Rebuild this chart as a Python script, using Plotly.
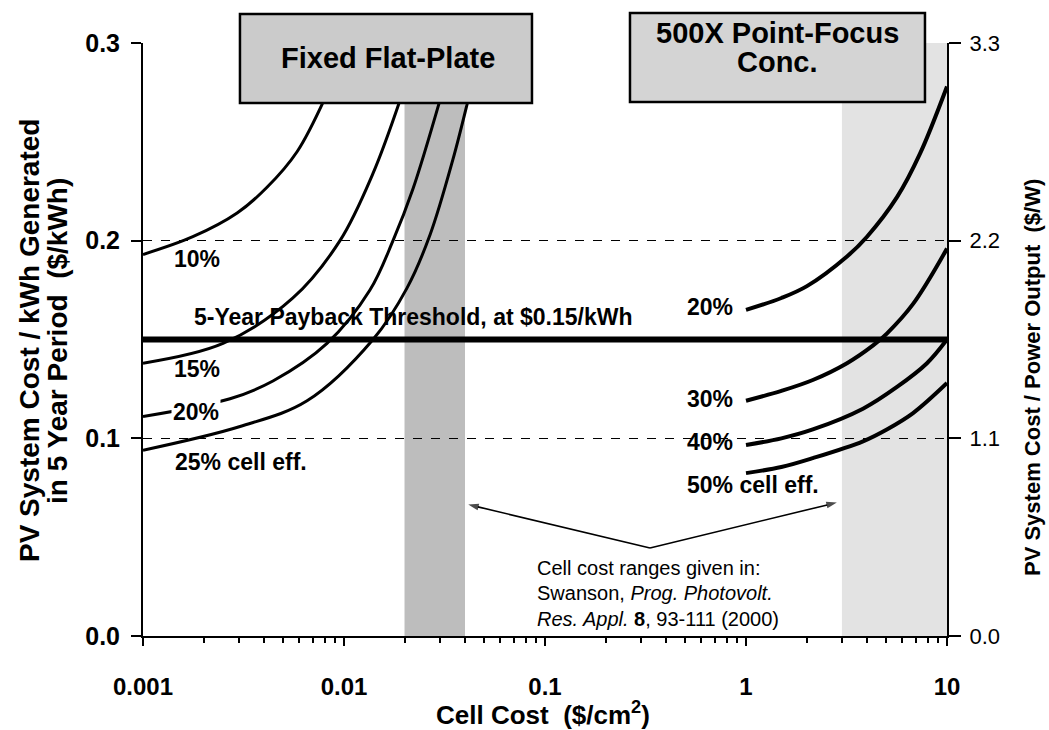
import math
import plotly.graph_objects as go

# ---- Flat-plate curves: cell cost ($/cm^2) vs system cost per kWh over 5 years ($/kWh)
fp10_x = [0.001, 0.00177, 0.00294, 0.00414, 0.00584, 0.00803]
fp10_y = [0.193, 0.202, 0.214, 0.227, 0.245, 0.272]
fp15_x = [0.001, 0.0025, 0.00557, 0.00955, 0.01394, 0.0190]
fp15_y = [0.138, 0.148, 0.171, 0.200, 0.234, 0.271]
fp20_x = [0.001, 0.00271, 0.00443, 0.00823, 0.01346, 0.01753, 0.0220, 0.0300]
fp20_y = [0.111, 0.120, 0.129, 0.148, 0.175, 0.200, 0.226, 0.271]
fp25_x = [0.001, 0.00304, 0.00655, 0.01394, 0.02057, 0.0268, 0.0348, 0.0414]
fp25_y = [0.094, 0.106, 0.119, 0.150, 0.176, 0.203, 0.241, 0.271]

# ---- 500X point-focus concentrator curves
c20_x = [1.0, 1.5, 2.01, 3.18, 4.0, 5.64, 7.34, 10.0]
c20_y = [0.165, 0.171, 0.1770, 0.192, 0.202, 0.222, 0.244, 0.278]
c30_x = [1.0, 1.5, 2.15, 3.18, 4.29, 5.02, 6.78, 10.0]
c30_y = [0.119, 0.124, 0.1295, 0.138, 0.147, 0.153, 0.168, 0.196]
c40_x = [1.0, 1.5, 2.15, 3.82, 5.64, 7.95, 10.0]
c40_y = [0.0966, 0.100, 0.1045, 0.115, 0.126, 0.138, 0.150]
c50_x = [1.0, 1.5, 2.15, 3.82, 5.02, 6.78, 10.0]
c50_y = [0.0824, 0.0855, 0.090, 0.0985, 0.1045, 0.1128, 0.128]

# ---- Payback threshold and cell-cost ranges
threshold_value = 0.15
threshold_x = [0.001, 10.0]
flat_plate_range = [0.02, 0.04]
concentrator_range = [3.0, 10.0]
y_span = [0.0, 0.3]

# ---- Note arrows (start point and the two ends pointing at the cost ranges)
arrow_start = (0.333, 0.0445)
arrow_ends = [(0.0415, 0.0665), (2.83, 0.0675)]

# ---- Axis ticks
x_tickvals = [0.001, 0.01, 0.1, 1, 10]
x_ticktext = ["0.001", "0.01", "0.1", "1", "10"]
y_tickvals = [0.0, 0.1, 0.2, 0.3]
y_ticktext = ["0.0", "0.1", "0.2", "0.3"]
y2_tickvals = [0.0, 1.1, 2.2, 3.3]
y2_ticktext = ["0.0", "1.1", "2.2", "3.3"]

FONT = "Arial, Liberation Sans, sans-serif"

fig = go.Figure()

# cost-range bands
for rng, col in [(flat_plate_range, "rgba(0,0,0,0.26)"),
                 (concentrator_range, "rgba(0,0,0,0.11)")]:
    fig.add_trace(go.Scatter(
        x=[rng[0], rng[1], rng[1], rng[0], rng[0]],
        y=[y_span[0], y_span[0], y_span[1], y_span[1], y_span[0]],
        fill="toself", fillcolor=col, mode="none",
        hoverinfo="skip", showlegend=False))

# efficiency curves
for xs, ys, w in [(fp10_x, fp10_y, 3), (fp15_x, fp15_y, 3),
                  (fp20_x, fp20_y, 3), (fp25_x, fp25_y, 3),
                  (c20_x, c20_y, 4), (c30_x, c30_y, 4),
                  (c40_x, c40_y, 4), (c50_x, c50_y, 4)]:
    fig.add_trace(go.Scatter(
        x=xs, y=ys, mode="lines",
        line=dict(color="black", width=w, shape="spline", smoothing=1.0),
        hoverinfo="skip", showlegend=False))

# 5-year payback threshold
fig.add_trace(go.Scatter(
    x=threshold_x, y=[threshold_value] * len(threshold_x), mode="lines",
    line=dict(color="black", width=6), hoverinfo="skip", showlegend=False))

# arrows from the reference note to both cost ranges
for end in arrow_ends:
    fig.add_trace(go.Scatter(
        x=[arrow_start[0], end[0]], y=[arrow_start[1], end[1]],
        mode="lines+markers",
        line=dict(color="black", width=1.6),
        marker=dict(symbol=["circle", "arrow"], size=[0, 11], color="black",
                    angleref="previous", line=dict(width=0)),
        hoverinfo="skip", showlegend=False))

# secondary axis ($/W) carrier
fig.add_trace(go.Scatter(
    x=[x_tickvals[0], x_tickvals[-1]], y=[y2_tickvals[0], y2_tickvals[-1]],
    yaxis="y2", mode="markers", marker=dict(opacity=0),
    hoverinfo="skip", showlegend=False))

L = math.log10

# text labels on the curves
label_font = dict(family=FONT, size=23, color="black", weight="bold")
labels = [
    ("10%", 0.00186, 0.1907, "center", None),
    ("15%", 0.00186, 0.1351, "center", None),
    ("20%", 0.00184, 0.1133, "center", "white"),
    ("25% cell eff.", 0.00141, 0.0880, "left", None),
    ("5-Year Payback Threshold, at $0.15/kWh", 0.00175, 0.1614, "left", None),
    ("20%", 0.498, 0.1664, "left", None),
    ("30%", 0.498, 0.1199, "left", None),
    ("40%", 0.498, 0.0981, "left", None),
    ("50% cell eff.", 0.498, 0.0764, "left", None),
]
annotations = []
for text, x, y, anchor, bg in labels:
    ann = dict(text=text, x=L(x), y=y, xref="x", yref="y", xanchor=anchor,
               yanchor="middle", showarrow=False, font=label_font)
    if bg:
        ann["bgcolor"] = bg
    annotations.append(ann)

# reference note
note_font = dict(family=FONT, size=20, color="black")
for text, y in [("Cell cost ranges given in:", 0.0344),
                ("Swanson, <i>Prog. Photovolt.</i>", 0.0217),
                ("<i>Res. Appl.</i> <b>8</b>, 93-111 (2000)", 0.0086)]:
    annotations.append(dict(text=text, x=L(0.0891), y=y, xref="x", yref="y",
                            xanchor="left", yanchor="middle", showarrow=False,
                            font=note_font))

# box titles
box_font = dict(family=FONT, size=29, color="black", weight="bold")
paper_txt = dict(xref="paper", yref="paper", xanchor="center", yanchor="middle",
                 showarrow=False)
annotations += [
    dict(text="Fixed Flat-Plate", x=0.3047, y=0.9747, font=box_font, **paper_txt),
    dict(text="500X Point-Focus", x=0.7886, y=1.0169, font=box_font, **paper_txt),
    dict(text="Conc.", x=0.7886, y=0.9680, font=box_font, **paper_txt),
]

# axis titles
annotations += [
    dict(text="PV System Cost / kWh Generated", x=-0.1405, y=0.4975,
         textangle=-90, font=dict(family=FONT, size=28, weight="bold"), **paper_txt),
    dict(text="in 5 Year Period\u00a0\u00a0($/kWh)", x=-0.1057, y=0.4975,
         textangle=-90, font=dict(family=FONT, size=28, weight="bold"), **paper_txt),
    dict(text="PV System Cost / Power Output\u00a0\u00a0($/W)", x=1.1057, y=0.4367,
         textangle=-90, font=dict(family=FONT, size=22, weight="bold"), **paper_txt),
    dict(text="Cell Cost\u00a0\u00a0($/cm<sup>2</sup>)", x=0.4975, y=-0.1315,
         font=dict(family=FONT, size=26, weight="bold"), **paper_txt),
]

shapes = [
    dict(type="rect", xref="paper", yref="paper", x0=0.1206, x1=0.4838,
         y0=0.8988, y1=1.0489, fillcolor="#cbcbcb",
         line=dict(color="black", width=2.5), layer="above"),
    dict(type="rect", xref="paper", yref="paper", x0=0.6057, x1=0.9726,
         y0=0.9005, y1=1.0506, fillcolor="#d4d4d4",
         line=dict(color="black", width=2.5), layer="above"),
]

minor_x = [m * 10 ** e for e in range(-3, 1) for m in range(2, 10)]

fig.update_layout(
    width=1049, height=730,
    margin=dict(l=143, r=102, t=43, b=94),
    paper_bgcolor="white", plot_bgcolor="white",
    showlegend=False,
    font=dict(family=FONT, color="black"),
    xaxis=dict(type="log", range=[-3, 1], tickvals=x_tickvals, ticktext=x_ticktext,
               ticks="outside", ticklen=8, tickwidth=2, tickcolor="black",
               showline=True, linecolor="black", linewidth=2, showgrid=False,
               zeroline=False, ticklabelstandoff=20,
               tickfont=dict(family=FONT, size=24, weight="bold"),
               minor=dict(tickvals=minor_x, ticks="outside", ticklen=5,
                          tickwidth=1.5, tickcolor="black", showgrid=False)),
    yaxis=dict(range=y_span, tickvals=y_tickvals, ticktext=y_ticktext,
               ticks="outside", ticklen=10, tickwidth=2, tickcolor="black",
               showline=True, linecolor="black", linewidth=2,
               showgrid=True, gridcolor="black", gridwidth=1, griddash="dash",
               zeroline=False, ticklabelstandoff=6,
               tickfont=dict(family=FONT, size=25, weight="bold")),
    yaxis2=dict(range=[0, 3.3], tickvals=y2_tickvals, ticktext=y2_ticktext,
                overlaying="y", side="right", anchor="x",
                ticks="outside", ticklen=12, tickwidth=2, tickcolor="black",
                showline=True, linecolor="black", linewidth=2,
                showgrid=False, zeroline=False, ticklabelstandoff=4,
                tickfont=dict(family=FONT, size=22)),
    annotations=annotations,
    shapes=shapes,
)

fig.write_html("out.html")
